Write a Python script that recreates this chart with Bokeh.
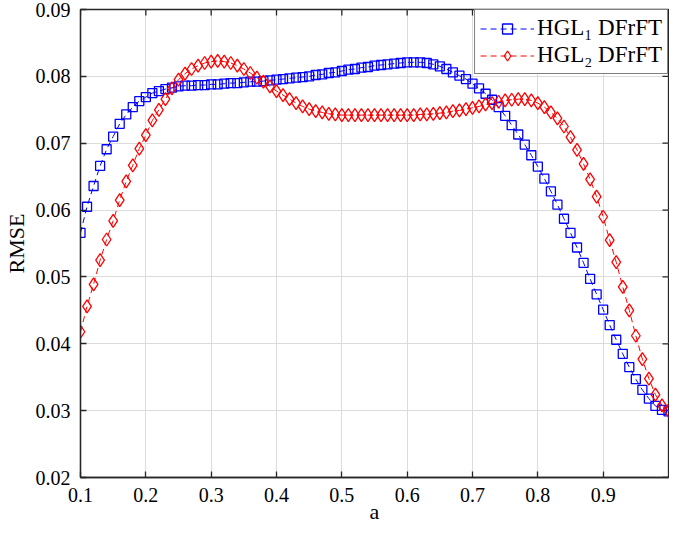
from bokeh.plotting import figure
from bokeh.models import FixedTicker, Legend, LegendItem, Range1d
from bokeh.embed import file_html
from bokeh.resources import INLINE

# ---------------- data ----------------
a_values = [0.10, 0.11, 0.12, 0.13, 0.14, 0.15, 0.16, 0.17, 0.18, 0.19,
            0.20, 0.21, 0.22, 0.23, 0.24, 0.25, 0.26, 0.27, 0.28, 0.29,
            0.30, 0.31, 0.32, 0.33, 0.34, 0.35, 0.36, 0.37, 0.38, 0.39,
            0.40, 0.41, 0.42, 0.43, 0.44, 0.45, 0.46, 0.47, 0.48, 0.49,
            0.50, 0.51, 0.52, 0.53, 0.54, 0.55, 0.56, 0.57, 0.58, 0.59,
            0.60, 0.61, 0.62, 0.63, 0.64, 0.65, 0.66, 0.67, 0.68, 0.69,
            0.70, 0.71, 0.72, 0.73, 0.74, 0.75, 0.76, 0.77, 0.78, 0.79,
            0.80, 0.81, 0.82, 0.83, 0.84, 0.85, 0.86, 0.87, 0.88, 0.89,
            0.90, 0.91, 0.92, 0.93, 0.94, 0.95, 0.96, 0.97, 0.98, 0.99,
            1.00]

hgl1_rmse = [0.0566, 0.0605, 0.0636, 0.0666, 0.0691, 0.0710, 0.0729, 0.0743, 0.0754, 0.0763,
             0.0769, 0.0775, 0.0778, 0.0781, 0.0783, 0.0785, 0.0786, 0.0786, 0.0787, 0.0787,
             0.0788, 0.0788, 0.0789, 0.0790, 0.0790, 0.0791, 0.0792, 0.0792, 0.0793, 0.0794,
             0.0795, 0.0796, 0.0797, 0.0798, 0.0799, 0.0800, 0.0802, 0.0803, 0.0805, 0.0806,
             0.0808, 0.0810, 0.0811, 0.0813, 0.0814, 0.0816, 0.0817, 0.0818, 0.0819, 0.0820,
             0.0821, 0.0821, 0.0821, 0.0820, 0.0818, 0.0815, 0.0811, 0.0806, 0.0801, 0.0796,
             0.0789, 0.0782, 0.0774, 0.0765, 0.0754, 0.0741, 0.0727, 0.0713, 0.0698, 0.0682,
             0.0665, 0.0647, 0.0628, 0.0608, 0.0587, 0.0566, 0.0544, 0.0521, 0.0497, 0.0474,
             0.0451, 0.0428, 0.0406, 0.0385, 0.0365, 0.0347, 0.0331, 0.0318, 0.0307, 0.0301,
             0.0299]

hgl2_rmse = [0.0418, 0.0456, 0.0489, 0.0525, 0.0556, 0.0584, 0.0615, 0.0643, 0.0667, 0.0692,
             0.0712, 0.0734, 0.0750, 0.0766, 0.0782, 0.0795, 0.0804, 0.0811, 0.0816, 0.0820,
             0.0822, 0.0823, 0.0822, 0.0820, 0.0816, 0.0811, 0.0805, 0.0798, 0.0792, 0.0785,
             0.0778, 0.0772, 0.0766, 0.0760, 0.0755, 0.0751, 0.0748, 0.0746, 0.0744, 0.0743,
             0.0742, 0.0742, 0.0742, 0.0742, 0.0742, 0.0742, 0.0742, 0.0742, 0.0742, 0.0742,
             0.0742, 0.0742, 0.0743, 0.0743, 0.0744, 0.0745, 0.0746, 0.0748, 0.0749, 0.0751,
             0.0753, 0.0755, 0.0758, 0.0760, 0.0762, 0.0764, 0.0765, 0.0766, 0.0766, 0.0764,
             0.0760, 0.0754, 0.0746, 0.0737, 0.0725, 0.0709, 0.0690, 0.0669, 0.0646, 0.0620,
             0.0590, 0.0555, 0.0522, 0.0485, 0.0450, 0.0412, 0.0377, 0.0348, 0.0324, 0.0308,
             0.0300]

x_range_limits = [0.1, 1.0]
y_range_limits = [0.02, 0.09]
x_ticks = [0.1, 0.2, 0.3, 0.4, 0.5, 0.6, 0.7, 0.8, 0.9]
x_tick_labels = ["0.1", "0.2", "0.3", "0.4", "0.5", "0.6", "0.7", "0.8", "0.9"]
y_ticks = [0.02, 0.03, 0.04, 0.05, 0.06, 0.07, 0.08, 0.09]
y_tick_labels = ["0.02", "0.03", "0.04", "0.05", "0.06", "0.07", "0.08", "0.09"]

series_labels = ["HGL\u2081 DFrFT", "HGL\u2082 DFrFT"]

# ---------------- figure ----------------
FONT = "Liberation Serif"
AXC = "#262626"

p = figure(width=669, height=526, output_backend="svg", toolbar_location=None,
           x_range=Range1d(*x_range_limits), y_range=Range1d(*y_range_limits),
           min_border_left=73, min_border_right=1, min_border_top=9, min_border_bottom=40)
p.background_fill_color = "white"
p.border_fill_color = "white"
p.outline_line_color = AXC
p.outline_line_width = 1.3

# axes
xa = p.xaxis[0]
xa.ticker = FixedTicker(ticks=x_ticks)
xa.major_label_overrides = {t: l for t, l in zip(x_ticks, x_tick_labels)}
xa.axis_label = "a"
ya = p.yaxis[0]
ya.ticker = FixedTicker(ticks=y_ticks)
ya.major_label_overrides = {t: l for t, l in zip(y_ticks, y_tick_labels)}
ya.axis_label = "RMSE"

for ax in (xa, ya):
    ax.axis_line_color = AXC
    ax.axis_line_width = 1.3
    ax.major_tick_line_color = AXC
    ax.major_tick_line_width = 1.3
    ax.major_tick_in = 6
    ax.major_tick_out = 0
    ax.minor_tick_in = 0
    ax.minor_tick_out = 0
    ax.major_label_text_font = FONT
    ax.major_label_text_font_size = "20px"
    ax.major_label_text_color = "black"
    ax.major_label_text_line_height = 1.0
    ax.axis_label_text_font = FONT
    ax.axis_label_text_font_size = "22px"
    ax.axis_label_text_font_style = "normal"
    ax.axis_label_text_color = "black"
    ax.axis_label_text_line_height = 1.0

xa.major_label_standoff = 10
xa.axis_label_standoff = -6
ya.major_label_standoff = 10
ya.axis_label_standoff = 4

# mirrored inward ticks on top and right edges (box on); half is clipped by the frame
p.rect(x=x_ticks, y=[y_range_limits[1]] * len(x_ticks), width=1.3, height=12,
       width_units="screen", height_units="screen", fill_color=AXC, line_color=None)
p.rect(x=[x_range_limits[1]] * len(y_ticks), y=y_ticks, width=12, height=1.3,
       width_units="screen", height_units="screen", fill_color=AXC, line_color=None)

# grid
p.xgrid.ticker = FixedTicker(ticks=x_ticks)
p.ygrid.ticker = FixedTicker(ticks=y_ticks)
p.grid.grid_line_color = "#dcdcdc"
p.grid.grid_line_width = 1

# series
l1 = p.line(a_values, hgl1_rmse, line_color="#0000ff", line_width=1, line_dash="6 4")
s1 = p.scatter(a_values, hgl1_rmse, marker="square", size=9, line_color="#0000ff",
               line_width=1.3, fill_alpha=0)
l2 = p.line(a_values, hgl2_rmse, line_color="#ff0000", line_width=1, line_dash="6 4")
s2 = p.scatter(a_values, hgl2_rmse, marker="diamond", size=13, line_color="#ff0000",
               line_width=1.3, fill_alpha=0)

legend = Legend(items=[LegendItem(label=series_labels[0], renderers=[l1, s1]),
                       LegendItem(label=series_labels[1], renderers=[l2, s2])],
                location="top_right")
legend.margin = 0
legend.padding = 5
legend.spacing = 1
legend.glyph_width = 54
legend.glyph_height = 25
legend.label_standoff = 3
legend.label_text_font = FONT
legend.label_text_font_size = "23px"
legend.label_text_color = "black"
legend.border_line_color = "black"
legend.border_line_width = 1.5
legend.background_fill_color = "white"
legend.background_fill_alpha = 1
p.add_layout(legend, "center")

open("out.html", "w").write(file_html(p, INLINE))
